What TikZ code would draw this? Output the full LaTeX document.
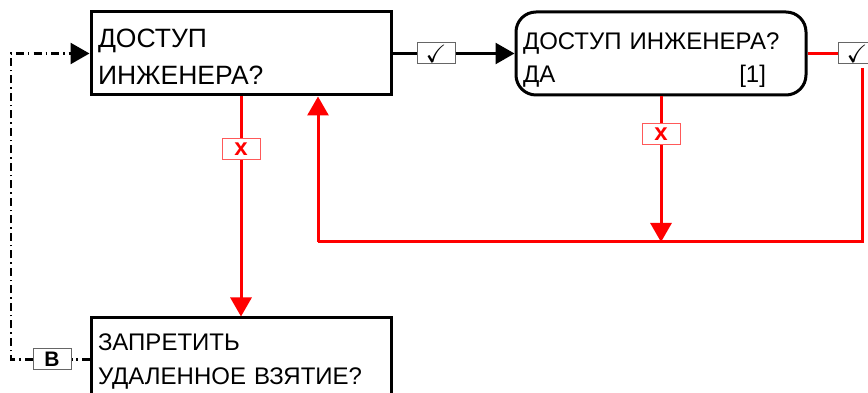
\documentclass[tikz,border=0pt]{standalone}
\usepackage{amssymb}
\usepackage{fontspec}
\setmainfont{Liberation Sans}
\usetikzlibrary{positioning,arrows.meta}
\tikzset{
  menu/.style    = {draw, line width=3pt, align=left, minimum height=83pt,
                    inner xsep=7pt, inner ysep=0pt},
  tag/.style     = {draw=black!60, line width=1pt, fill=white, minimum width=38pt,
                    minimum height=21pt, inner sep=0pt},
  notag/.style   = {tag, draw=red!65, text=red, font=\fontsize{24}{24}\selectfont\bfseries},
  arrow/.style   = {-{Triangle[length=19pt,width=21pt]}, line width=2.5pt},
  redline/.style = {red, line width=3pt},
  redarrow/.style = {redline, -{Triangle[length=19pt,width=21pt]}},
  dashdot/.style = {line width=2.5pt, dash pattern=on 8pt off 4pt on 1.5pt off 4pt},
}
\newcommand{\chk}{\scalebox{2.5}{$\checkmark$}}

\begin{document}
\begin{tikzpicture}[x=1pt, y=1pt, node distance=24pt]
  \useasboundingbox (0,0) rectangle (868,393);
  \clip (0,0) rectangle (868,393);
  % menu screens
  \node[menu, minimum width=300pt, text width=286pt,
        font=\fontsize{26.5}{37}\selectfont] (acc) at (241,339.5)
       {\rule{0pt}{26pt}ДОСТУП\\ИНЖЕНЕРА?};
  \node[menu, right=122pt of acc, minimum width=290pt, text width=276pt,
        rounded corners=20pt, font=\fontsize{24}{33}\selectfont] (accyes)
       {\rule{0pt}{29pt}ДОСТУП ИНЖЕНЕРА?\\ДА\hfill[1]\hspace{33pt}\mbox{}};
  \node[menu, below=220pt of acc, minimum width=300pt, text width=286pt,
        font=\fontsize{24}{34}\selectfont] (deny)
       {\rule{0pt}{21pt}ЗАПРЕТИТЬ\\УДАЛЕННОЕ ВЗЯТИЕ?};
  % keys
  \node[tag, right=of acc] (ok1) {\chk};
  \node[tag, right=30pt of accyes] (ok2) {\chk};
  \node[notag, below=42pt of acc] (no1) {x};
  \node[notag, below=27pt of accyes] (no2) {x};
  \node[tag, left=18pt of deny, font=\fontsize{21}{21}\selectfont\bfseries] (bk) {В};
  \coordinate (rt)   at (862,325);
  \coordinate (ret)  at (318,151);
  \coordinate (retb) at (accyes.south |- ret);
  \coordinate (lft)  at (11,339.5);
  % connectors
  \draw[line width=2.5pt] (acc) -- (ok1);
  \draw[arrow] (ok1) -- (accyes);
  \draw[redline] (accyes) -- (ok2);
  \draw[redline] (rt) |- (ret);
  \draw[redarrow] (ret) -- (ret |- acc.south);
  \draw[redline] (acc.south) -- (no1);
  \draw[redarrow] (no1) -- (deny);
  \draw[redline] (accyes.south) -- (no2);
  \draw[redarrow] (no2) -- (retb);
  \draw[dashdot] (deny) -- (bk);
  \draw[dashdot, arrow] (bk) -| (lft) -- (acc);
\end{tikzpicture}
\end{document}
